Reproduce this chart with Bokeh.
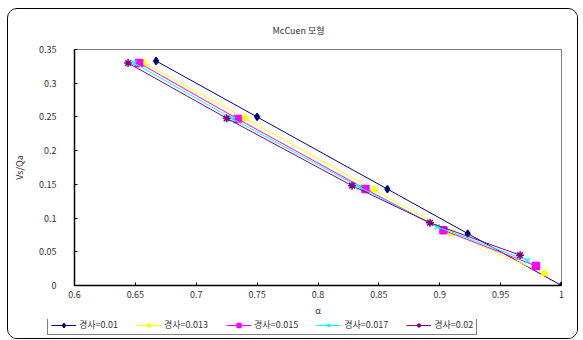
from bokeh.plotting import figure
from bokeh.layouts import column
from bokeh.models import (Range1d, FixedTicker, NumeralTickFormatter,
                          Legend, LegendItem, Title)
from bokeh.embed import file_html
from bokeh.resources import INLINE

# ---- data ----
series_names = ["경사=0.01", "경사=0.013", "경사=0.015", "경사=0.017", "경사=0.02"]
alpha_001 = [0.667, 0.750, 0.857, 0.923, 1.000]
vs_001 = [0.333, 0.250, 0.143, 0.077, 0.000]
alpha_0013 = [0.657, 0.740, 0.846, 0.910, 0.986]
vs_0013 = [0.330, 0.248, 0.142, 0.078, 0.018]
alpha_0015 = [0.653, 0.734, 0.839, 0.903, 0.979]
vs_0015 = [0.330, 0.247, 0.143, 0.082, 0.029]
alpha_0017 = [0.649, 0.730, 0.834, 0.898, 0.972]
vs_0017 = [0.330, 0.247, 0.146, 0.087, 0.037]
alpha_002 = [0.644, 0.725, 0.828, 0.892, 0.966]
vs_002 = [0.330, 0.248, 0.148, 0.093, 0.045]
x_ticks = [0.6, 0.65, 0.7, 0.75, 0.8, 0.85, 0.9, 0.95, 1.0]
y_ticks = [0, 0.05, 0.1, 0.15, 0.2, 0.25, 0.3, 0.35]
title_text = "McCuen 모형"
x_title = "α"
y_title = "Vs/Qa"

colors = ["#000080", "#FFFF00", "#FF00FF", "#00FFFF", "#800080"]
markers = ["diamond", "triangle", "square", "x", "asterisk"]
msizes = [7, 7, 7, 7, 8]
xs = [alpha_001, alpha_0013, alpha_0015, alpha_0017, alpha_002]
ys = [vs_001, vs_0013, vs_0015, vs_0017, vs_002]

# canvas sits inside a rounded 1px border: canvas from (8, 9) on the page
CX, CY = 8, 9
CW = 569
MAIN_BOTTOM = 319      # page y where the main figure ends
LEG_H = 19
FL, FR, FT, FB = 74, 561, 49, 285   # frame edges on the page

FONT = "Noto Sans CJK KR"
TXT = "#333333"

p = figure(width=CW, height=MAIN_BOTTOM - CY, output_backend="svg",
           toolbar_location=None,
           x_range=Range1d(0.6, 1.0), y_range=Range1d(0.0, 0.35),
           min_border_left=FL - CX, min_border_right=(CX + CW) - FR,
           min_border_top=FT - CY, min_border_bottom=MAIN_BOTTOM - FB,
           title=None)
p.frame_align = False
p.xgrid.visible = False
p.ygrid.visible = False
p.outline_line_color = "#808080"
p.outline_line_width = 1
p.background_fill_color = "white"
p.border_fill_color = "white"

t = Title(text=title_text, align="left", offset=198, standoff=25,
          text_font=FONT, text_font_size="9px", text_color=TXT,
          text_font_style="normal")
p.add_layout(t, "above")

for ax, ticks in ((p.xaxis[0], x_ticks), (p.yaxis[0], y_ticks)):
    ax.ticker = FixedTicker(ticks=ticks)
    ax.formatter = NumeralTickFormatter(format="0.[00]")
    ax.major_tick_in = 3
    ax.major_tick_out = 0
    ax.minor_tick_line_color = None
    ax.axis_line_color = "black"
    ax.axis_line_width = 1.5
    ax.major_tick_line_color = "black"
    ax.major_label_text_font = FONT
    ax.major_label_text_font_size = "9px"
    ax.major_label_text_color = TXT
    ax.axis_label_text_font = FONT
    ax.axis_label_text_font_size = "9px"
    ax.axis_label_text_color = TXT
    ax.axis_label_text_font_style = "normal"
p.xaxis[0].axis_label = x_title
p.yaxis[0].axis_label = y_title
p.xaxis[0].major_label_standoff = 5
p.xaxis[0].axis_label_standoff = 3
p.yaxis[0].major_label_standoff = 18
p.yaxis[0].axis_label_standoff = 10

for x, y, c, m, s in zip(xs, ys, colors, markers, msizes):
    p.line(x, y, line_color=c, line_width=1)
    p.scatter(x, y, marker=m, size=s, line_color=c, fill_color=c, line_width=1.5)

# legend strip: same series, drawn off-range so only the legend shows
lg = figure(width=CW, height=LEG_H, output_backend="svg", toolbar_location=None,
            x_range=Range1d(-2, -1), y_range=Range1d(-2, -1),
            x_axis_type=None, y_axis_type=None,
            min_border_left=0, min_border_right=0, min_border_top=0,
            min_border_bottom=0, title=None)
lg.frame_align = False
lg.xgrid.visible = False
lg.ygrid.visible = False
lg.outline_line_color = None
lg.background_fill_color = "white"
lg.border_fill_color = "white"
items = []
for name, x, y, c, m, s in zip(series_names, xs, ys, colors, markers, msizes):
    r1 = lg.line(x, y, line_color=c, line_width=1)
    r2 = lg.scatter(x, y, marker=m, size=s - 1, line_color=c, fill_color=c, line_width=1.5)
    items.append(LegendItem(label=name, renderers=[r1, r2]))
legend = Legend(items=items, orientation="horizontal",
                location=(47 - CX, 3),
                label_text_font=FONT, label_text_font_size="9px",
                label_text_color=TXT, glyph_width=25, glyph_height=10,
                label_standoff=3, spacing=18, padding=3, margin=0,
                label_height=10,
                border_line_color="black", border_line_width=1,
                background_fill_color="white", background_fill_alpha=1)
lg.add_layout(legend, "center")

layout = column(p, lg, spacing=0)
layout.margin = (CY - 1, 0, 0, CX - 1)
layout.styles = {"border": "1px solid black", "border-radius": "10px",
                 "overflow": "hidden"}

open("out.html", "w").write(file_html(layout, INLINE))
